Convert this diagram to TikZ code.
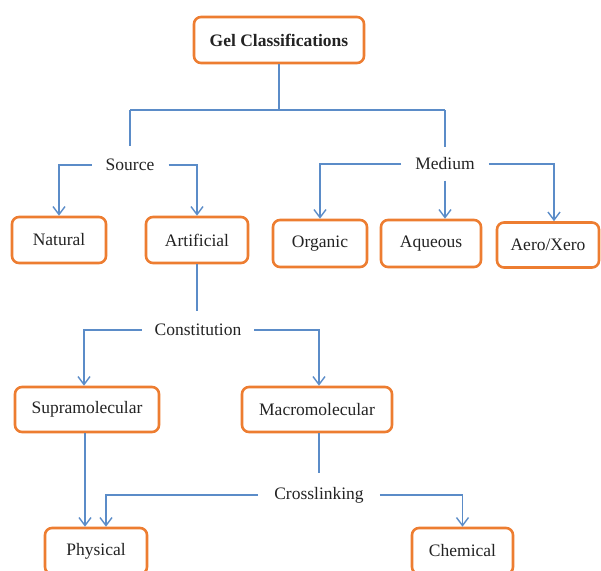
\documentclass[tikz,border=0pt]{standalone}
\usepackage{fontspec}
\setmainfont{Liberation Serif}
\usetikzlibrary{arrows.meta}
\definecolor{boxorange}{RGB}{237,125,49}
\definecolor{linkblue}{RGB}{91,140,200}
\definecolor{txt}{RGB}{35,35,35}
\begin{document}
\begin{tikzpicture}[x=1pt,y=-1pt,
  box/.style={draw=boxorange,line width=2.6pt,rounded corners=7pt,fill=white,
    text=txt,font=\fontsize{17.5}{20}\selectfont,minimum height=46pt,inner sep=0pt},
  lbl/.style={text=txt,font=\fontsize{17.5}{20}\selectfont,minimum height=38pt,inner xsep=14pt,inner ysep=0pt},
  link/.style={draw=linkblue,line width=1.4pt},
  arr/.style={link,-{Straight Barb[length=8pt,width=12pt,line width=1.4pt]}}]
\useasboundingbox (0,0) rectangle (601,570);
% boxes
\node[box,minimum width=170pt,font=\fontsize{17.5}{20}\selectfont\bfseries] (title) at (279,40) {Gel Classifications};
\node[box,minimum width=94pt] (natural) at (59,240) {Natural};
\node[box,minimum width=102pt] (artificial) at (197,240) {Artificial};
\node[box,minimum width=94pt,minimum height=47pt] (organic) at (320,243.5) {Organic};
\node[box,minimum width=100pt,minimum height=47pt] (aqueous) at (431,243.5) {Aqueous};
\node[box,minimum width=102pt,minimum height=45pt] (aero) at (548,245) {Aero/Xero};
\node[box,minimum width=144pt,minimum height=45pt] (supra) at (87,409.5) {Supramolecular};
\node[box,minimum width=150pt,minimum height=45pt] (macro) at (317,409.5) {Macromolecular};
\node[box,minimum width=102pt] (physical) at (96,551) {Physical};
\node[box,minimum width=101pt] (chemical) at (462.5,551) {Chemical};
% labels
\node[lbl] (source) at (130,165) {Source};
\node[lbl,minimum height=33pt] (medium) at (445,164) {Medium};
\node[lbl,inner xsep=13pt] (constit) at (198,330) {Constitution};
\node[lbl,minimum height=44pt,inner xsep=16pt] (cross) at (319,495) {Crosslinking};
% connectors
\coordinate (jl) at (130,110);
\coordinate (jr) at (445,110);
\draw[link] (title.south) -- (title.south |- jl);
\draw[link] (jl) -- (jr);
\draw[link] (jl) -- (source.north);
\draw[link] (jr) -- (medium.north);
\draw[arr] (source.west) -| (natural.north);
\draw[arr] (source.east) -| (artificial.north);
\draw[arr] (medium.west) -| (organic.north);
\draw[arr] (medium.south) -- (medium.south |- aqueous.north);
\draw[arr] (medium.east) -| ([xshift=6pt]aero.north);
\draw[link] (artificial.south) -- (artificial.south |- constit.north);
\draw[arr] (constit.west) -| ([xshift=-3pt]supra.north);
\draw[arr] (constit.east) -| ([xshift=2pt]macro.north);
\draw[arr] ([xshift=-2pt]supra.south) -- ([xshift=-2pt]supra.south |- physical.north);
\draw[link] ([xshift=2pt]macro.south) -- (cross.north);
\draw[arr] (cross.west) -| ([xshift=10pt]physical.north);
\draw[arr] (cross.east) -| (chemical.north);
\end{tikzpicture}
\end{document}
